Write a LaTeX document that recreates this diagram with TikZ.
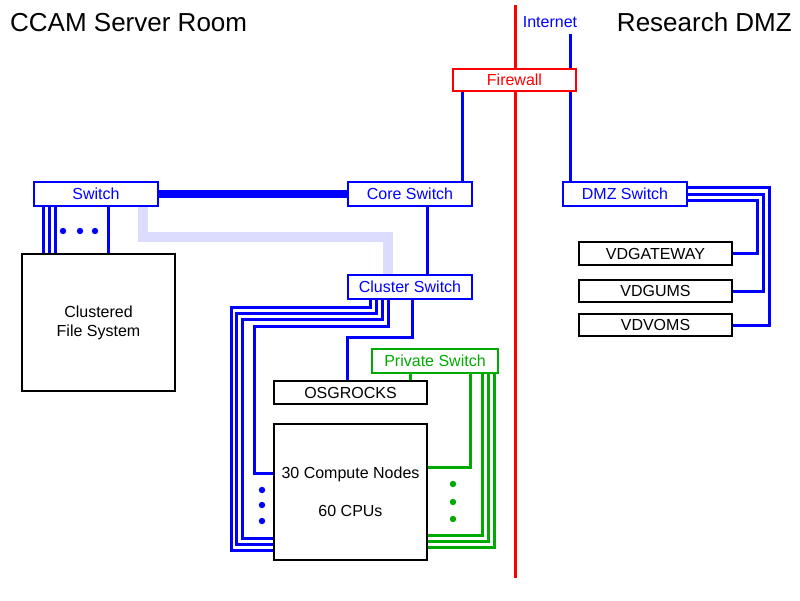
\documentclass[tikz,border=0pt]{standalone}
\usepackage{fontspec}
\setmainfont{Liberation Sans}
\usetikzlibrary{backgrounds}
\definecolor{bl}{RGB}{0,0,255}
\definecolor{rd}{RGB}{255,0,0}
\definecolor{gr}{RGB}{0,170,0}
\definecolor{lav}{RGB}{220,220,255}
\begin{document}
\begin{tikzpicture}[x=1pt,y=-1pt,
  lbl/.style={font=\fontsize{16}{19}\selectfont},
  bbox/.style={draw=bl,line width=2pt,fill=white,text=bl,inner sep=0pt,minimum width=124pt,minimum height=24pt,lbl},
  rbox/.style={draw=rd,line width=2pt,fill=white,text=rd,inner sep=0pt,minimum width=123pt,minimum height=22pt,lbl},
  gbox/.style={draw=gr,line width=2pt,fill=white,text=gr,inner sep=0pt,minimum width=126pt,minimum height=24pt,lbl},
  kbox/.style={draw=black,line width=2pt,fill=white,text=black,inner sep=0pt,minimum width=153pt,minimum height=22pt,lbl,align=center},
  bw/.style={draw=bl,line width=3pt},
  gw/.style={draw=gr,line width=3pt},
  bdot/.style={fill=bl,draw=none},
  gdot/.style={fill=gr,draw=none},
  title/.style={font=\fontsize{26}{30}\selectfont,inner sep=0pt}
]
\useasboundingbox (0,0) rectangle (800,600);

% titles
\node[title,anchor=base west] (t1) at (10,31) {CCAM Server Room};
\node[title,anchor=base east] (t2) at (792,31) {Research DMZ};
\node[lbl,text=bl,inner sep=0pt] (inet) at (550,22) {Internet};

% red divider
\coordinate (rtop) at (515,5);
\coordinate (rbot) at (515,578);
\draw[rd,line width=3pt] (rtop) -- (rbot);

% nodes
\node[rbox] (fw) at (514.5,80) {Firewall};
\node[bbox] (sw) at (96,194) {Switch};
\node[bbox] (core) at (410,194) {Core Switch};
\node[bbox] (dmz) at (625,194) {DMZ Switch};
\node[bbox] (cl) at (410,287) {Cluster Switch};
\node[gbox] (priv) at (435,361) {Private Switch};
\node[kbox,minimum height=23pt] (osg) at (350.5,392.5) {OSGROCKS};
\node[kbox,minimum height=136pt] (comp) at (350.5,492) {30 Compute Nodes\\[19pt]60 CPUs};
\node[kbox,minimum height=137pt] (cfs) at (98.5,322.5) {Clustered\\File System};
\node[kbox,minimum height=23pt] (vdg) at (655.5,253.5) {VDGATEWAY};
\node[kbox] (vdu) at (655.5,291) {VDGUMS};
\node[kbox] (vdv) at (655.5,325) {VDVOMS};

% background: white page and lavender link behind the boxes
\begin{pgfonlayer}{background}
\fill[white] (0,0) rectangle (800,600);
\draw[lav,line width=10pt] (143,0 |- sw.south) -- (143,237) -- (388,237) -- (388,0 |- cl.north);
\end{pgfonlayer}

% internet / firewall
\coordinate (inetend) at (570,34);
\draw[bw] (inetend) -- (570,0 |- fw.north);
\draw[bw] (462,0 |- fw.south) -- (462,0 |- core.north);
\draw[bw] (570,0 |- fw.south) -- (570,0 |- dmz.north);

% thick trunk
\draw[bl,line width=8pt] (sw.east) -- (core.west);
\draw[bw] (427,0 |- core.south) -- (427,0 |- cl.north);

% switch to file system
\foreach \x in {43,49,55,108} \draw[bw] (\x,0 |- sw.south) -- (\x,0 |- cfs.north);
\foreach \x in {63,80,95} \fill[bdot] (\x,231) circle (3.2pt);

% cluster switch to compute nodes
\draw[bw] (370,0 |- cl.south) -- (370,307) -- (231,307) -- (231,550) -- (comp.west |- 0,550);
\draw[bw] (376,0 |- cl.south) -- (376,313) -- (236.5,313) -- (236.5,544) -- (comp.west |- 0,544);
\draw[bw] (382,0 |- cl.south) -- (382,319) -- (242,319) -- (242,538) -- (comp.west |- 0,538);
\draw[bw] (388,0 |- cl.south) -- (388,326) -- (254,326) -- (254,473) -- (comp.west |- 0,473);
\foreach \y in {490,505,521} \fill[bdot] (262,\y) circle (3.2pt);

% cluster switch to OSGROCKS
\draw[bw] (412,0 |- cl.south) -- (412,337) -- (347,337) -- (347,0 |- osg.north);

% private switch
\draw[gw] (410,0 |- priv.south) -- (410,0 |- osg.north);
\draw[gw] (470,0 |- priv.south) -- (470,467) -- (comp.east |- 0,467);
\draw[gw] (482,0 |- priv.south) -- (482,535) -- (comp.east |- 0,535);
\draw[gw] (488,0 |- priv.south) -- (488,541) -- (comp.east |- 0,541);
\draw[gw] (494,0 |- priv.south) -- (494,547) -- (comp.east |- 0,547);
\foreach \y in {484,502,519} \fill[gdot] (453,\y) circle (3.2pt);

% DMZ switch to hosts
\draw[bw] (dmz.east |- 0,187) -- (769,187) -- (769,0 |- vdv.east) -- (vdv.east);
\draw[bw] (dmz.east |- 0,194) -- (763,194) -- (763,0 |- vdu.east) -- (vdu.east);
\draw[bw] (dmz.east |- 0,200) -- (757,200) -- (757,0 |- vdg.east) -- (vdg.east);
\end{tikzpicture}
\end{document}
